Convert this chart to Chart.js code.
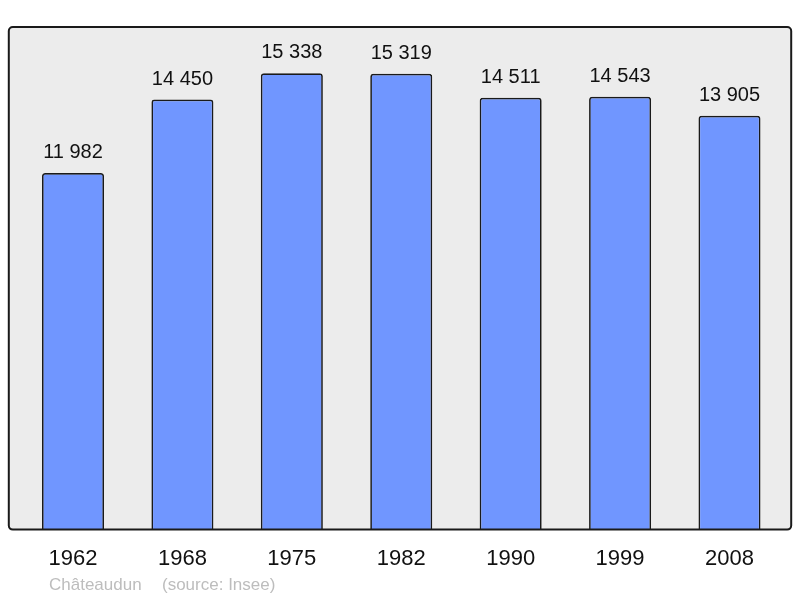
<!DOCTYPE html>
<html>
<head>
<meta charset="utf-8">
<script src="https://cdn.jsdelivr.net/npm/chart.js@4.4.1/dist/chart.umd.min.js"></script>
<style>
  html, body { margin: 0; padding: 0; background: #fff; }
  #wrap { width: 800px; height: 598px; }
</style>
</head>
<body>
<div id="wrap"><canvas id="myChart" width="800" height="598"></canvas></div>
<script>
// données : population de Châteaudun (Insee)
const years = ['1962', '1968', '1975', '1982', '1990', '1999', '2008'];
const population = [11982, 14450, 15338, 15319, 14511, 14543, 13905];
const yMax = 16890;

const commune = 'Châteaudun';
const source = '(source: Insee)';

function fmt(n) {
  return String(n).replace(/\B(?=(\d{3})+(?!\d))/g, ' ');
}

// fond gris + cadre arrondi
const frame = {
  id: 'frame',
  beforeDatasetsDraw(chart) {
    const a = chart.chartArea, c = chart.ctx;
    const l = a.left - 9.5, r = a.right + 7, t = a.top, b = a.bottom;
    c.save();
    c.beginPath();
    c.roundRect(l, t, r - l, b - t, 4);
    c.fillStyle = '#ececec';
    c.fill();
    c.restore();
  },
  afterDatasetsDraw(chart) {
    const a = chart.chartArea, c = chart.ctx;
    const l = a.left - 9.5, r = a.right + 7, t = a.top, b = a.bottom;
    c.save();
    c.beginPath();
    c.roundRect(l, t, r - l, b - t, 4);
    c.lineWidth = 2;
    c.strokeStyle = '#1a1a1a';
    c.stroke();

    // valeurs au dessus des barres
    c.font = '20px "Liberation Sans", Arial, sans-serif';
    c.fillStyle = '#111';
    c.textAlign = 'center';
    c.textBaseline = 'alphabetic';
    chart.getDatasetMeta(0).data.forEach((bar, i) => {
      c.fillText(fmt(population[i]), bar.x, bar.y - 15);
    });

    // pied
    c.font = '17px "Liberation Sans", Arial, sans-serif';
    c.fillStyle = '#bdbdbd';
    c.textAlign = 'left';
    c.fillText(commune, 49, 590);
    c.fillText(source, 162, 590);
    c.restore();
  }
};

const ctx = document.getElementById('myChart');

new Chart(ctx, {
  type: 'bar',
  data: {
    labels: years,
    datasets: [{
      data: population,
      backgroundColor: '#7096ff',
      borderColor: '#1a1a1a',
      borderWidth: 1.7,
      borderSkipped: 'bottom',
      borderRadius: { topLeft: 3, topRight: 3 },
      categoryPercentage: 1,
      barPercentage: 0.567
    }]
  },
  options: {
    responsive: false,
    animation: false,
    events: [],
    layout: {
      padding: { left: 18.3, right: 15.8, top: 27, bottom: 10 }
    },
    plugins: {
      legend: false,
      tooltip: false
    },
    scales: {
      x: {
        grid: { display: false, drawTicks: false },
        border: { display: false },
        ticks: {
          padding: 16,
          color: '#111',
          font: { family: '"Liberation Sans", Arial, sans-serif', size: 22 }
        }
      },
      y: {
        display: false,
        min: 0,
        max: yMax
      }
    }
  },
  plugins: [frame]
});
</script>
</body>
</html>
